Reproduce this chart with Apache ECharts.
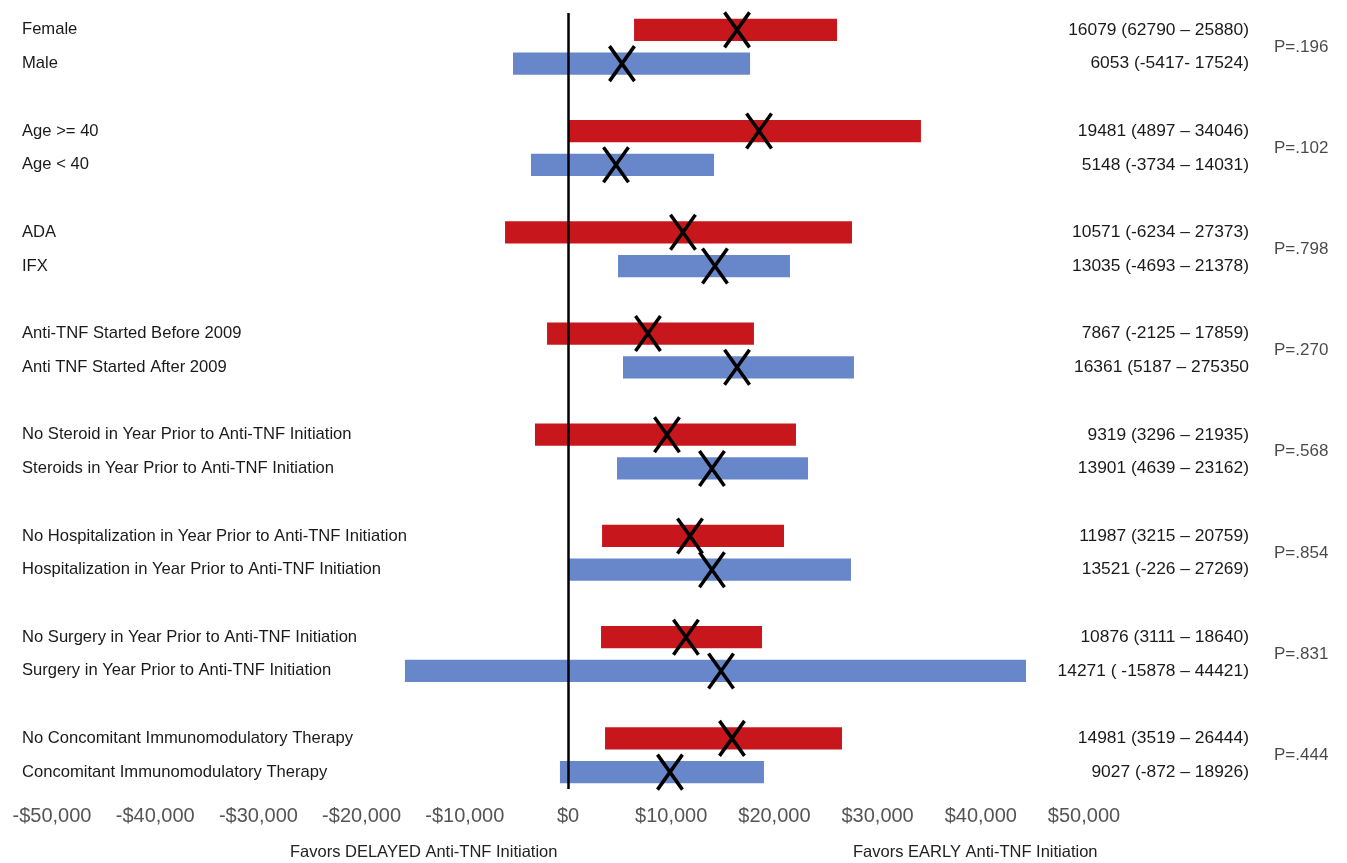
<!DOCTYPE html>
<html>
<head>
<meta charset="utf-8">
<script src="https://cdn.jsdelivr.net/npm/echarts@6/dist/echarts.min.js"></script>
<style>
  html, body { margin: 0; padding: 0; background: #fff; }
  #chart { width: 1347px; height: 863px; }
</style>
</head>
<body>
<div id="chart"></div>
<script>
// subgroup rows, top to bottom (pairs: first = red, second = blue)
const rowLabels = [
  'Female', 'Male',
  'Age >= 40', 'Age < 40',
  'ADA', 'IFX',
  'Anti-TNF Started Before 2009', 'Anti TNF Started After 2009',
  'No Steroid in Year Prior to Anti-TNF Initiation', 'Steroids in Year Prior to Anti-TNF Initiation',
  'No Hospitalization in Year Prior to Anti-TNF Initiation', 'Hospitalization in Year Prior to Anti-TNF Initiation',
  'No Surgery in Year Prior to Anti-TNF Initiation', 'Surgery in Year Prior to Anti-TNF Initiation',
  'No Concomitant Immunomodulatory Therapy', 'Concomitant Immunomodulatory Therapy'
]
// bar extents and X positions as drawn in the figure
const lower = [6400, -5330, 0, -3590, -6100, 4850, -2030, 5330, -3200, 4750, 3300, 0, 3200, -15800, 3590, -780]
const upper = [26070, 17640, 34200, 14150, 27520, 21510, 18020, 27710, 22090, 23260, 20930, 27420, 18800, 44380, 26550, 18990]
const estimate = [16380, 5230, 18510, 4650, 11140, 14240, 7750, 16380, 9590, 13950, 11820, 13950, 11430, 14830, 15890, 9880]
const ciText = [
  '16079 (62790 – 25880)', '6053 (-5417- 17524)',
  '19481 (4897 – 34046)', '5148 (-3734 – 14031)',
  '10571 (-6234 – 27373)', '13035 (-4693 – 21378)',
  '7867 (-2125 – 17859)', '16361 (5187 – 275350',
  '9319 (3296 – 21935)', '13901 (4639 – 23162)',
  '11987 (3215 – 20759)', '13521 (-226 – 27269)',
  '10876 (3111 – 18640)', '14271 ( -15878 – 44421)',
  '14981 (3519 – 26444)', '9027 (-872 – 18926)'
]
const pValues = ['P=.196', 'P=.102', 'P=.798', 'P=.270', 'P=.568', 'P=.854', 'P=.831', 'P=.444']
const xTicks = [-50000, -40000, -30000, -20000, -10000, 0, 10000, 20000, 30000, 40000, 50000]

const RED = '#C8161D'
const BLUE = '#6787CA'
const FONT = 'Liberation Sans, Arial, sans-serif'

// build slot layout: two rows per group, one empty slot between groups
const slotKeys = []
const slotLabel = []
const slotCi = []
const rowSlot = []
rowLabels.forEach((name, i) => {
  if (i > 0 && i % 2 === 0) {
    slotKeys.push('gap' + i)
    slotLabel.push('')
    slotCi.push('')
  }
  rowSlot.push(slotKeys.length)
  slotKeys.push('row' + i)
  slotLabel.push(name)
  slotCi.push(ciText[i])
})

const barData = rowLabels.map((n, i) => [lower[i], upper[i], rowSlot[i], i % 2])
const markData = rowLabels.map((n, i) => [estimate[i], rowSlot[i]])
const pData = pValues.map((p, g) => ({ value: [xTicks[xTicks.length - 1], rowSlot[g * 2]], name: p }))

const fmtMoney = (v) => {
  const s = '$' + Math.abs(v).toLocaleString('en-US')
  return v < 0 ? '-' + s : s
}

const chart = echarts.init(document.getElementById('chart'))
const option = {
  animation: false,
  textStyle: { fontFamily: FONT },
  grid: { left: 52, right: 263, top: 13, bottom: 74 },
  title: [
    { text: 'Favors DELAYED Anti-TNF Initiation', left: 285, top: 839, textStyle: { fontSize: 16.5, fontWeight: 'normal', color: '#222', fontFamily: FONT } },
    { text: 'Favors EARLY Anti-TNF Initiation', left: 848, top: 839, textStyle: { fontSize: 16.5, fontWeight: 'normal', color: '#222', fontFamily: FONT } }
  ],
  xAxis: {
    type: 'value',
    min: -50000,
    max: 50000,
    interval: 10000,
    axisLine: { show: false },
    axisTick: { show: false },
    splitLine: { show: false },
    axisLabel: { formatter: fmtMoney, fontSize: 20, color: '#555', margin: 17 }
  },
  yAxis: [
    {
      type: 'category',
      data: slotKeys,
      inverse: true,
      axisLine: { show: false },
      axisTick: { show: false },
      axisLabel: {
        interval: 0,
        align: 'left',
        margin: 30,
        fontSize: 16.6,
        color: '#1a1a1a',
        formatter: (v, i) => slotLabel[i]
      }
    },
    {
      type: 'category',
      data: slotKeys,
      inverse: true,
      position: 'right',
      axisLine: { show: false },
      axisTick: { show: false },
      axisLabel: {
        interval: 0,
        align: 'right',
        margin: 165,
        fontSize: 17.4,
        color: '#1a1a1a',
        formatter: (v, i) => slotCi[i]
      }
    }
  ],
  series: [
    {
      type: 'custom',
      name: 'range',
      data: barData,
      renderItem: (params, api) => {
        const start = api.coord([api.value(0), api.value(2)])
        const end = api.coord([api.value(1), api.value(2)])
        const h = api.size([0, 1])[1] * 0.66
        return {
          type: 'rect',
          shape: { x: start[0], y: start[1] - h / 2, width: end[0] - start[0], height: h },
          style: { fill: api.value(3) === 0 ? RED : BLUE }
        }
      },
      markLine: {
        silent: true,
        symbol: 'none',
        label: { show: false },
        lineStyle: { color: '#000', width: 2.5, type: 'solid' },
        data: [{ xAxis: 0 }]
      },
      z: 2
    },
    {
      type: 'custom',
      name: 'estimate',
      data: markData,
      renderItem: (params, api) => {
        const c = api.coord([api.value(0), api.value(1)])
        const w = 12.5
        const h = 17.5
        const style = { stroke: '#000', lineWidth: 3.5 }
        return {
          type: 'group',
          children: [
            { type: 'line', shape: { x1: c[0] - w, y1: c[1] - h, x2: c[0] + w, y2: c[1] + h }, style },
            { type: 'line', shape: { x1: c[0] + w, y1: c[1] - h, x2: c[0] - w, y2: c[1] + h }, style }
          ]
        }
      },
      z: 3
    },
    {
      type: 'scatter',
      name: 'p',
      data: pData,
      symbolSize: 0,
      silent: true,
      label: {
        show: true,
        position: 'right',
        distance: 190,
        offset: [0, 17],
        formatter: (p) => p.name,
        fontSize: 17,
        color: '#1a1a1a'
      }
    }
  ]
}
chart.setOption(option)
window.addEventListener('resize', () => chart.resize())
</script>
</body>
</html>
